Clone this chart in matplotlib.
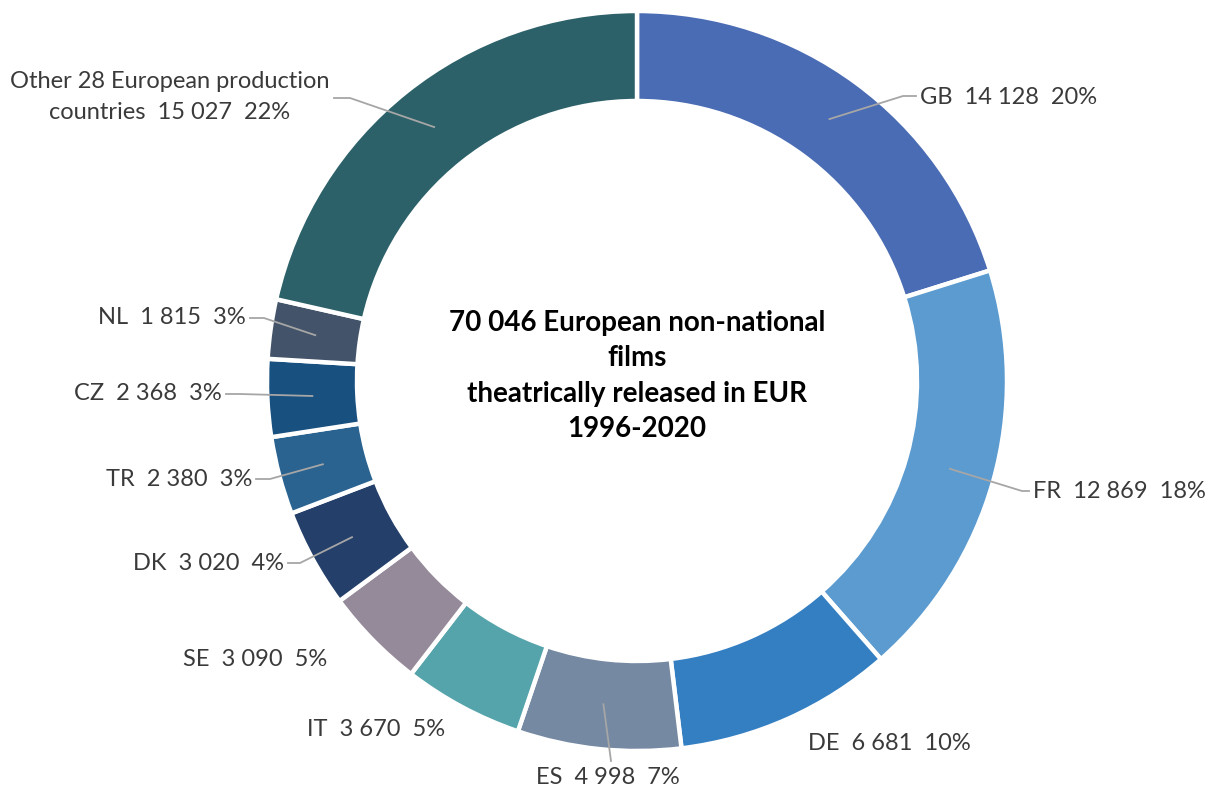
import numpy as np
import matplotlib.pyplot as plt

# films released outside their production country, 1996-2020
countries = ["GB", "FR", "DE", "ES", "IT", "SE", "DK", "TR", "CZ", "NL",
             "Other 28 European production\ncountries"]
films = [14128, 12869, 6681, 4998, 3670, 3090, 3020, 2380, 2368, 1815, 15027]
shares = ["20%", "18%", "10%", "7%", "5%", "5%", "4%", "3%", "3%", "3%", "22%"]
colors = ["#4a6cb4", "#5b9bd0", "#347ec2", "#7589a2", "#56a4ab", "#958a99",
          "#243f69", "#2a6390", "#18507f", "#435369", "#2d6169"]

total = sum(films)

W, H = 1205, 791
cx, cy = 637, H - 381
r_out, r_in = 370, 280

# label text position (pixels from top-left), alignment, leader elbow (or None)
label_pos = {
    "GB": (920, 97, "left", (903, 96)),
    "FR": (1033, 492, "left", (1022, 491)),
    "DE": (808, 743, "left", None),
    "ES": (608, 778, "center", (611, 761)),
    "IT": (445, 730, "right", None),
    "SE": (327, 660, "right", None),
    "DK": (284, 563, "right", (300, 563)),
    "TR": (252, 479, "right", (270, 479)),
    "CZ": (222, 394, "right", (240, 394)),
    "NL": (246, 318, "right", (264, 318)),
}

plt.rcParams['font.family'] = ['Lato', 'DejaVu Sans']
fig = plt.figure(figsize=(W / 100, H / 100), dpi=100)
ax = fig.add_axes([0, 0, 1, 1])

ax.pie(films, colors=colors, startangle=90, counterclock=False,
       center=(cx, cy), radius=r_out, frame=True,
       wedgeprops=dict(width=r_out - r_in, edgecolor='white', linewidth=3.2))
ax.set_xlim(0, W)
ax.set_ylim(0, H)
ax.set_aspect('equal')
ax.axis('off')

grey = "#a6a6a6"
txt = "#3a3a3a"
r_mid = (r_out + r_in) / 2
cum = 0
for name, val, pct in zip(countries, films, shares):
    ang = np.radians(90 - 360 * (cum + val / 2) / total)
    cum += val
    ax_x = cx + r_mid * np.cos(ang)
    ax_y = cy + r_mid * np.sin(ang)
    num = f"{val:,}".replace(",", " ")
    label = f"{name}  {num}  {pct}"
    if name in label_pos:
        tx, ty, ha, elbow = label_pos[name]
        ty = H - ty
        if elbow is not None:
            ex, ey = elbow[0], H - elbow[1]
            if name == "ES":
                ax.plot([ax_x, ex], [ax_y, ey], color=grey, lw=1.3)
            else:
                end = tx - 4 if ha == "left" else tx + 4
                ax.plot([ax_x, ex, end], [ax_y, ey, ey], color=grey, lw=1.3)
        ax.text(tx, ty, label, ha=ha, va='center', fontsize=17, color=txt)
    else:
        # two-line label for the remaining countries
        ax.plot([ax_x, 350, 334], [ax_y, H - 98, H - 98], color=grey, lw=1.3)
        ax.text(170, H - 97, label, ha='center', va='center',
                fontsize=17, color=txt, linespacing=1.55)

ax.text(cx, H - 376,
        f"{total:,}".replace(",", " ") + " European non-national\nfilms\n"
        "theatrically released in EUR\n1996-2020",
        ha='center', va='center', fontsize=20, fontweight='bold',
        color='black', linespacing=1.45)

fig.savefig("out.png", dpi=100)
